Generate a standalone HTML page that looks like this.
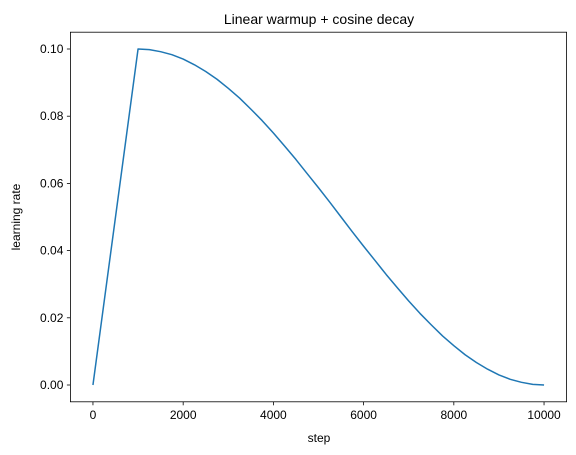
<!DOCTYPE html>
<html><head><meta charset="utf-8"><style>
html,body{margin:0;padding:0;background:#fff;}
svg{display:block;font-family:"Liberation Sans","DejaVu Sans",sans-serif;}
</style></head><body>
<svg id="chart" width="576" height="455">
<rect x="0" y="0" width="576" height="455" fill="#fff"/>
<text x="319" y="24" font-size="14" text-anchor="middle" fill="#000">Linear warmup + cosine decay</text>
<g id="plot"></g>
<text x="319" y="442" font-size="12" text-anchor="middle">step</text>
<text x="20" y="217" font-size="12" text-anchor="middle" transform="rotate(-90 20 217)">learning rate</text>
</svg>
<script>
const steps=[0,1000,1250,1500,1750,2000,2250,2500,2750,3000,3250,3500,3750,4000,4250,4500,4750,5000,5250,5500,5750,6000,6250,6500,6750,7000,7250,7500,7750,8000,8250,8500,8750,9000,9250,9500,9750,10000];
const lrValues=[0,0.1,0.0998,0.0992,0.0983,0.0970,0.0953,0.0933,0.0910,0.0883,0.0854,0.0821,0.0787,0.075,0.0711,0.0671,0.0629,0.0587,0.0544,0.05,0.0456,0.0413,0.0371,0.0329,0.0289,0.025,0.0213,0.0179,0.0146,0.0117,0.0090,0.0067,0.0047,0.0030,0.0017,0.0008,0.0002,0];
const xTicks=[0,2000,4000,6000,8000,10000];
const yTicks=[0,0.02,0.04,0.06,0.08,0.10];
const yTickLabels=["0.00","0.02","0.04","0.06","0.08","0.10"];
const L=70.4,R=566.6,T=32.2,B=401.8;
const xMin=-500,xMax=10500,yMin=-0.005,yMax=0.105;
function xs(v){return L+(v-xMin)/(xMax-xMin)*(R-L);}
function ys(v){return B-(v-yMin)/(yMax-yMin)*(B-T);}
const NS="http://www.w3.org/2000/svg";
const g=document.getElementById('plot');
function mk(t,a,p){const e=document.createElementNS(NS,t);for(const k in a)e.setAttribute(k,a[k]);(p||g).appendChild(e);return e;}
let d=steps.map((s,i)=>(i?'L':'M')+xs(s).toFixed(2)+','+ys(lrValues[i]).toFixed(2)).join(' ');
const line=mk('path',{d:d,fill:'none',stroke:'#1f77b4','stroke-width':1.5,'stroke-linejoin':'round'});


const frame=mk('rect',{x:L,y:T,width:R-L,height:B-T,fill:'none',stroke:'#000','stroke-width':0.8});


xTicks.forEach(v=>{
  const x=xs(v);
  const tk=mk('line',{x1:x,x2:x,y1:B,y2:B+3.5,stroke:'#000','stroke-width':0.8});
  
  
  const tx=mk('text',{x:x,y:B+17,'font-size':12,'text-anchor':'middle'});
  tx.textContent=String(v);
  
  
});
yTicks.forEach((v,i)=>{
  const y=ys(v);
  const tk=mk('line',{x1:L-3.5,x2:L,y1:y,y2:y,stroke:'#000','stroke-width':0.8});
  
  
  const tx=mk('text',{x:L-7,y:y+4,'font-size':12,'text-anchor':'end'});
  tx.textContent=yTickLabels[i];
  
  
});
</script>
</body></html>
